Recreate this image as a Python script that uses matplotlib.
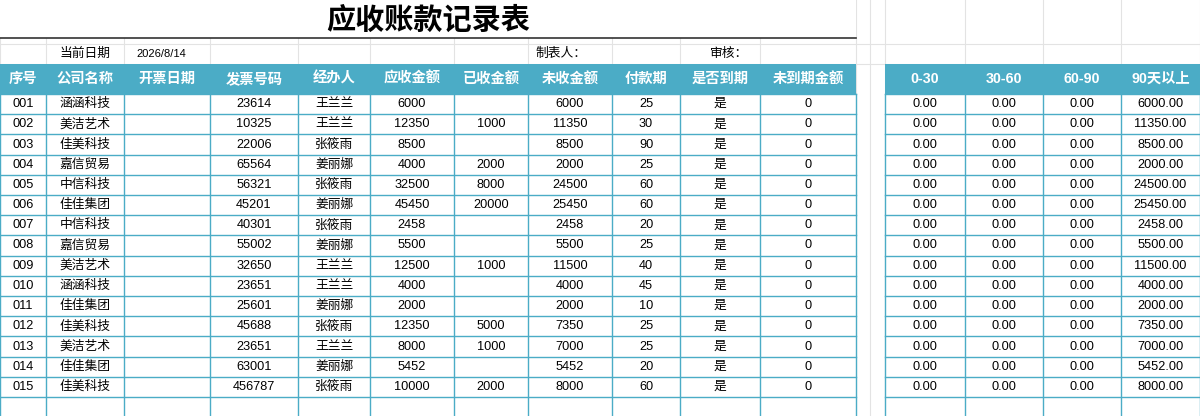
import matplotlib
matplotlib.use("Agg")
import matplotlib.pyplot as plt
from matplotlib.patches import Rectangle

plt.rcParams['font.family'] = ['Liberation Sans', 'Noto Sans CJK SC', 'DejaVu Sans']

title = "应收账款记录表"
headers = ["序号", "公司名称", "开票日期", "发票号码", "经办人", "应收金额", "已收金额",
           "未收金额", "付款期", "是否到期", "未到期金额"]
aging_headers = ["0-30", "30-60", "60-90", "90天以上"]
ids = ["001", "002", "003", "004", "005", "006", "007", "008", "009", "010", "011", "012", "013", "014", "015"]
companies = ["涵涵科技", "美洁艺术", "佳美科技", "嘉信贸易", "中信科技", "佳佳集团", "中信科技", "嘉信贸易",
             "美洁艺术", "涵涵科技", "佳佳集团", "佳美科技", "美洁艺术", "佳佳集团", "佳美科技"]
invoices = [23614, 10325, 22006, 65564, 56321, 45201, 40301, 55002, 32650, 23651, 25601, 45688, 23651, 63001, 456787]
handlers = ["王兰兰", "王兰兰", "张筱雨", "姜丽娜", "张筱雨", "姜丽娜", "张筱雨", "姜丽娜", "王兰兰", "王兰兰",
            "姜丽娜", "张筱雨", "王兰兰", "姜丽娜", "张筱雨"]
receivable = [6000, 12350, 8500, 4000, 32500, 45450, 2458, 5500, 12500, 4000, 2000, 12350, 8000, 5452, 10000]
received = [None, 1000, None, 2000, 8000, 20000, None, None, 1000, None, None, 5000, 1000, None, 2000]
outstanding = [6000, 11350, 8500, 2000, 24500, 25450, 2458, 5500, 11500, 4000, 2000, 7350, 7000, 5452, 8000]
terms = [25, 30, 90, 25, 60, 60, 20, 25, 40, 45, 10, 25, 25, 20, 60]
due = ["是"] * 15
not_due = [0] * 15
age_0_30 = [0.0] * 15
age_30_60 = [0.0] * 15
age_60_90 = [0.0] * 15
age_90 = outstanding
info_date = "2026/8/14"

W, H = 1200, 416
fig = plt.figure(figsize=(12, 4.16), dpi=100)
ax = fig.add_axes([0, 0, 1, 1])
ax.set_xlim(0, W)
ax.set_ylim(H, 0)
ax.axis('off')

cols = [0, 46, 124, 210, 298, 370, 454, 528, 612, 680, 760, 856]
cols2 = [885, 965, 1043, 1121, 1200]
teal = '#4BACC6'
gridc = '#e3e3e3'

# background excel grid
for x in cols + [870] + cols2:
    ax.plot([x, x], [0, H], color=gridc, lw=0.8, zorder=0)
for y in [44, 64]:
    ax.plot([0, W], [y, y], color=gridc, lw=0.8, zorder=0)
ax.add_patch(Rectangle((0, 0), 856, 38, facecolor='white', edgecolor='none', zorder=1))

ax.text(428, 20, title, ha='center', va='center', fontsize=21, fontweight='bold',
        family=['Noto Sans CJK SC'], zorder=3)
ax.plot([0, 856], [38, 38], color='#333333', lw=1.2, zorder=3)

fs = 9.2
cjk = ['Liberation Sans', 'Noto Sans CJK SC']
ax.text(85, 54, "当前日期", ha='center', va='center', fontsize=fs, family=cjk)
ax.text(136, 54, info_date, ha='left', va='center', fontsize=8, family=cjk)
ax.text(535, 54, "制表人：", ha='left', va='center', fontsize=fs, family=cjk)
ax.text(710, 54, "审核：", ha='left', va='center', fontsize=fs, family=cjk)

top, hh = 64, 30
rh = 20.2
nrows = len(ids) + 1

# header
ax.add_patch(Rectangle((0, top), 856, hh, facecolor=teal, edgecolor='none', zorder=2))
ax.add_patch(Rectangle((885, top), 315, hh, facecolor=teal, edgecolor='none', zorder=2))
for i, h in enumerate(headers):
    ax.text((cols[i] + cols[i + 1]) / 2, top + hh / 2, h, ha='center', va='center', color='white',
            fontsize=10.3, fontweight='bold', family=cjk, zorder=4)
for i, h in enumerate(aging_headers):
    ax.text((cols2[i] + cols2[i + 1]) / 2, top + hh / 2, h, ha='center', va='center', color='white',
            fontsize=10.3, fontweight='bold', family=cjk, zorder=4)

y0 = top + hh
bottom = y0 + nrows * rh
for segs in (cols, cols2):
    ax.add_patch(Rectangle((segs[0], y0), segs[-1] - segs[0], bottom - y0, facecolor='white',
                           edgecolor='none', zorder=1.5))
    for x in segs:
        ax.plot([x, x], [y0, bottom], color=teal, lw=1, zorder=3)
    for r in range(nrows + 1):
        y = y0 + r * rh
        ax.plot([segs[0], segs[-1]], [y, y], color=teal, lw=1, zorder=3)

def s(v):
    return "" if v is None else str(v)

for r in range(len(ids)):
    yc = y0 + (r + 0.5) * rh
    vals = [ids[r], companies[r], "", s(invoices[r]), handlers[r], s(receivable[r]), s(received[r]),
            s(outstanding[r]), s(terms[r]), due[r], s(not_due[r])]
    for i, v in enumerate(vals):
        ax.text((cols[i] + cols[i + 1]) / 2, yc, v, ha='center', va='center', fontsize=fs,
                family=cjk, zorder=4)
    avals = [age_0_30[r], age_30_60[r], age_60_90[r], age_90[r]]
    for i, v in enumerate(avals):
        ax.text((cols2[i] + cols2[i + 1]) / 2, yc, f"{v:.2f}", ha='center', va='center', fontsize=fs,
                family=cjk, zorder=4)

fig.savefig("out.png", dpi=100)
